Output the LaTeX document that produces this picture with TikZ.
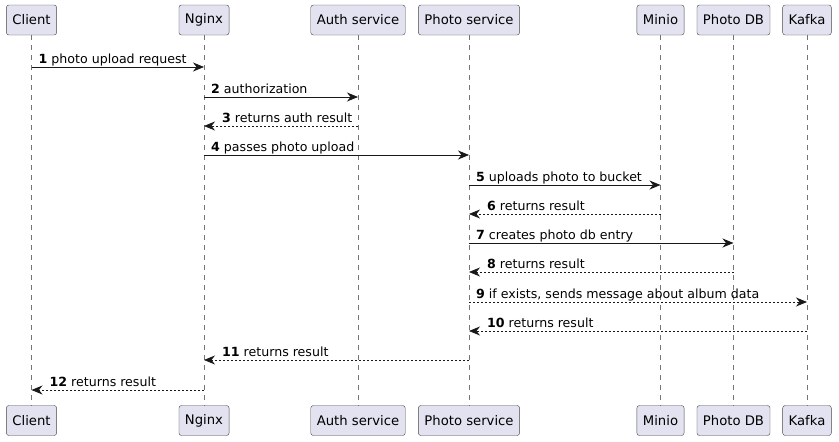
\documentclass[tikz,border=0pt]{standalone}
\usepackage{fontspec}
\setmainfont{DejaVu Sans}
\usetikzlibrary{arrows.meta}
\definecolor{lavender}{HTML}{E2E2F0}
\definecolor{ink}{HTML}{181818}
\begin{document}
\begin{tikzpicture}[x=1pt,y=-1pt]
  \tikzstyle{actor}=[draw=ink!80,fill=lavender,rounded corners=2.5pt,minimum height=30pt,inner xsep=6pt,font=\fontsize{13.2}{15}\selectfont]
  \tikzstyle{lifeline}=[draw=ink!60,line width=0.6pt,dash pattern=on 5pt off 5pt]
  \tikzstyle{call}=[draw=ink,line width=0.8pt,-{Stealth[length=11pt,width=9pt,inset=3.5pt]}]
  \tikzstyle{reply}=[call,dash pattern=on 2pt off 2pt]
  \tikzstyle{msg}=[anchor=base west,inner sep=0pt,font=\fontsize{12.6}{14}\selectfont]

  \useasboundingbox (0,0) rectangle (839,442);

  % participants, top and bottom
  \node [actor] (client) at (31.5,20) {Client};
  \node [actor] (nginx) at (204,20) {Nginx};
  \node [actor] (auth) at (358,20) {Auth service};
  \node [actor] (photo) at (469,20) {Photo service};
  \node [actor] (minio) at (660.5,20) {Minio};
  \node [actor] (db) at (733.5,20) {Photo DB};
  \node [actor] (kafka) at (807,20) {Kafka};

  \node [actor] (clientB) at (31.5,420.5) {Client};
  \node [actor] (nginxB) at (204,420.5) {Nginx};
  \node [actor] (authB) at (358,420.5) {Auth service};
  \node [actor] (photoB) at (469,420.5) {Photo service};
  \node [actor] (minioB) at (660.5,420.5) {Minio};
  \node [actor] (dbB) at (733.5,420.5) {Photo DB};
  \node [actor] (kafkaB) at (807,420.5) {Kafka};

  % lifelines
  \foreach \p in {client,nginx,auth,photo,minio,db,kafka}
    \draw [lifeline] (\p.south) -- (\p B.north);

  % messages
  \draw [call] (client |- 0,67) -- (nginx |- 0,67);
  \node [msg] (m1) at ([xshift=7pt]client |- 0,63) {\textbf{1} photo upload request};

  \draw [call] (nginx |- 0,97) -- (auth |- 0,97);
  \node [msg] (m2) at ([xshift=7pt]nginx |- 0,93) {\textbf{2} authorization};

  \draw [reply] (auth |- 0,126) -- (nginx |- 0,126);
  \node [msg] (m3) at ([xshift=18pt]nginx |- 0,122) {\textbf{3} returns auth result};

  \draw [call] (nginx |- 0,155) -- (photo |- 0,155);
  \node [msg] (m4) at ([xshift=7pt]nginx |- 0,151) {\textbf{4} passes photo upload};

  \draw [call] (photo |- 0,185) -- (minio |- 0,185);
  \node [msg] (m5) at ([xshift=7pt]photo |- 0,181) {\textbf{5} uploads photo to bucket};

  \draw [reply] (minio |- 0,214) -- (photo |- 0,214);
  \node [msg] (m6) at ([xshift=18pt]photo |- 0,210) {\textbf{6} returns result};

  \draw [call] (photo |- 0,243) -- (db |- 0,243);
  \node [msg] (m7) at ([xshift=7pt]photo |- 0,239) {\textbf{7} creates photo db entry};

  \draw [reply] (db |- 0,272) -- (photo |- 0,272);
  \node [msg] (m8) at ([xshift=18pt]photo |- 0,268) {\textbf{8} returns result};

  \draw [reply] (photo |- 0,302) -- (kafka |- 0,302);
  \node [msg] (m9) at ([xshift=7pt]photo |- 0,298) {\textbf{9} if exists, sends message about album data};

  \draw [reply] (kafka |- 0,331) -- (photo |- 0,331);
  \node [msg] (m10) at ([xshift=18pt]photo |- 0,327) {\textbf{10} returns result};

  \draw [reply] (photo |- 0,360) -- (nginx |- 0,360);
  \node [msg] (m11) at ([xshift=18pt]nginx |- 0,356) {\textbf{11} returns result};

  \draw [reply] (nginx |- 0,390) -- (client |- 0,390);
  \node [msg] (m12) at ([xshift=18pt]client |- 0,386) {\textbf{12} returns result};
\end{tikzpicture}
\end{document}
